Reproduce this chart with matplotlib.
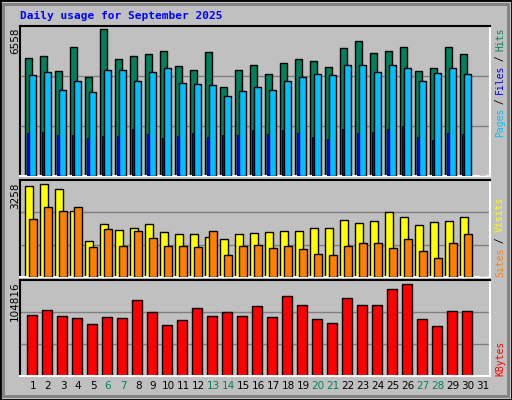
import matplotlib
matplotlib.use('Agg')

import numpy as np
import matplotlib.pyplot as plt
from matplotlib.patches import Rectangle

# ============================================================
# DATA
# ============================================================

days = np.arange(1, 32)
day_labels = [str(d) for d in days]
weekend_days = [6, 7, 13, 14, 20, 21, 27, 28]

hits = [5270, 5360, 4690, 5760, 4420, 6558, 5230, 5360, 5450, 5580,
        4910, 4730, 5540, 3990, 4730, 4950, 4550, 5020, 5230, 5140,
        4870, 5710, 6020, 5490, 5580, 5760, 4690, 4820, 5760, 5450]
hits += [0]

files = [4490, 4620, 3820, 4220, 3730, 4710, 4710, 4260, 4620, 4800,
         4130, 4090, 4040, 3550, 3770, 3950, 3820, 4220, 4400, 4530,
         4490, 4940, 4940, 4620, 4940, 4800, 4220, 4580, 4800, 4530]
files += [0]

pages = [1900, 1950, 1810, 1810, 1680, 1770, 1770, 2080, 1860, 1680,
         1770, 1900, 1730, 1810, 1810, 2030, 1860, 2030, 1900, 1730,
         1640, 2080, 1900, 1950, 2080, 2210, 1730, 1590, 1900, 1860]
pages += [0]

visits = [3190, 3258, 3080, 2330, 1250, 1840, 1630, 1700, 1840, 1560,
          1490, 1490, 1390, 1320, 1490, 1530, 1560, 1600, 1600, 1700,
          1700, 1980, 1880, 1950, 2270, 2090, 1810, 1910, 1950, 2090]
visits += [0]

sites = [2020, 2450, 2310, 2450, 1040, 1670, 1070, 1600, 1360, 1070,
         1070, 1040, 1600, 760, 1070, 1110, 1000, 1070, 970, 820,
         760, 1070, 1180, 1180, 1000, 1320, 900, 680, 1180, 1500]
sites += [0]

kbytes = [69240, 75740, 68150, 65900, 59400, 67000, 65900, 86690, 73580, 58340,
          63770, 77860, 68150, 72470, 68150, 80250, 67000, 91030, 81330, 64840,
          60500, 88840, 81330, 81330, 98700, 104816, 64840, 57250, 74640, 74640]
kbytes += [0]

# ============================================================
# STYLE
# ============================================================

BG = '#c0c0c0'
C_HITS = '#00805c'
C_FILES = '#00c0ff'
C_PAGES = '#0000ff'
C_VISITS = '#ffff00'
C_SITES = '#ff8000'
C_KB = '#ff0000'

W, H = 512, 400
MONO = 'DejaVu Sans Mono'

fig = plt.figure(figsize=(W / 100, H / 100), dpi=100)
fig.patch.set_facecolor(BG)

fig.patches.append(Rectangle((0, 0), 1, 1, transform=fig.transFigure,
                             fill=False, edgecolor='black', linewidth=2))
fig.patches.append(Rectangle((3 / W, 4 / H), 1 - 7 / W, 1 - 8 / H,
                             transform=fig.transFigure, fill=False,
                             edgecolor='#808080', linewidth=2))


def px_axes(top, bottom, left=20, right=490):
    ax = fig.add_axes([left / W, 1 - bottom / H, (right - left) / W,
                       (bottom - top) / H])
    ax.set_facecolor(BG)
    ax.set_xlim(0.22, 31.55)
    ax.set_xticks([])
    ax.set_yticks([])
    for s in ['left', 'top']:
        ax.spines[s].set_color('black')
    for s in ['right', 'bottom']:
        ax.spines[s].set_color('white')
    for s in ax.spines.values():
        s.set_linewidth(1.5)
    return ax


def grid(ax, ymax):
    for f in (1 / 3, 2 / 3):
        ax.axhline(ymax * f, color='#808080', linewidth=1, zorder=0)


def ftext(x, y, s, family=MONO, **kw):
    fig.text(x / W, 1 - y / H, s, family=family, **kw)


def stacked_label(y_bottom, parts, step, x=500):
    i = 0
    for txt, col in parts:
        ftext(x, y_bottom - step * i, txt, color=col, rotation=90,
              ha='center', va='bottom', fontsize=7)
        i += len(txt)


# ============================================================
# TOP PANEL: hits / files / pages
# ============================================================

ax1 = px_axes(26, 176)
ymax1 = 6558 * 150 / 147
ax1.set_ylim(0, ymax1)
grid(ax1, ymax1)
ax1.bar(days - 0.19, hits, width=0.47, color=C_HITS, edgecolor='black', linewidth=1, zorder=2)
ax1.bar(days + 0.07, files, width=0.47, color=C_FILES, edgecolor='black', linewidth=1, zorder=3)
ax1.bar(days - 0.23, pages, width=0.16, color=C_PAGES, edgecolor='black', linewidth=0.6, zorder=4)

# ============================================================
# MIDDLE PANEL: visits / sites
# ============================================================

ax2 = px_axes(180, 277)
ymax2 = 3258 * 96.4 / 92.4
ax2.set_ylim(0, ymax2)
grid(ax2, ymax2)
ax2.bar(days - 0.16, visits, width=0.53, color=C_VISITS, edgecolor='black', linewidth=1, zorder=2)
ax2.bar(days + 0.09, sites, width=0.5, color=C_SITES, edgecolor='black', linewidth=1, zorder=3)

# ============================================================
# BOTTOM PANEL: kbytes
# ============================================================

ax3 = px_axes(280, 376)
ymax3 = 104816 * 95.4 / 91.3
ax3.set_ylim(0, ymax3)
grid(ax3, ymax3)
ax3.bar(days, kbytes, width=0.667, color=C_KB, edgecolor='black', linewidth=1, zorder=2)

# day labels
for d, lab in zip(days, day_labels):
    col = C_HITS if d in weekend_days else 'black'
    ax3.text(d + 0.09, -0.1, lab, transform=ax3.get_xaxis_transform(),
             ha='center', va='center', fontsize=7.5, color=col,
             family='DejaVu Sans')

# ============================================================
# TEXTS
# ============================================================

ftext(20, 16, 'Daily usage for September 2025', color='#0000ff',
      fontsize=8, fontweight='bold', va='center')

ftext(15, 28, '6558', rotation=90, ha='center', va='top', fontsize=7.5, family='DejaVu Sans')
ftext(15, 182, '3258', rotation=90, ha='center', va='top', fontsize=7.5, family='DejaVu Sans')
ftext(15, 281, '104816', rotation=90, ha='center', va='top', fontsize=7.5, family='DejaVu Sans')

stacked_label(137, [('Pages', C_FILES), (' / ', 'black'),
                    ('Files', C_PAGES), (' / ', 'black'),
                    ('Hits', C_HITS)], 5.4)
stacked_label(277, [('Sites', C_SITES), (' / ', 'black'),
                    ('Visits', C_VISITS)], 5.6)
stacked_label(376, [('KBytes', C_KB)], 6.0)

plt.savefig('out.png', dpi=100, facecolor=BG)
